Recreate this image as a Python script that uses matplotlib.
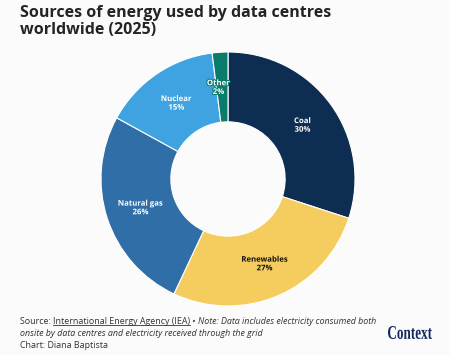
import matplotlib
matplotlib.use("Agg")
import matplotlib.pyplot as plt
import matplotlib.patheffects as pe
from matplotlib.textpath import TextPath
from matplotlib.patches import PathPatch
from matplotlib.font_manager import FontProperties
from matplotlib.transforms import Affine2D, IdentityTransform
import numpy as np

categories = ["Coal", "Renewables", "Natural gas", "Nuclear", "Other"]
values = [30, 27, 26, 15, 2]
colors = ["#0e2d52", "#f5cd5f", "#2f6ea6", "#3ea3e0", "#0b7c6c"]
text_colors = ["white", "#111111", "white", "white", "white"]

plt.rcParams['font.family'] = ['Open Sans', 'DejaVu Sans']

W, H = 450, 355
fig = plt.figure(figsize=(W / 100, H / 100), dpi=100)
bg = "#fbfbfb"
fig.patch.set_facecolor(bg)

cx, cy, R = 228, 179, 127
ax = fig.add_axes([(cx - R) / W, (H - cy - R) / H, 2 * R / W, 2 * R / H])
ax.set_facecolor("none")
width = 0.55
wedges, _ = ax.pie(values, colors=colors, startangle=90, counterclock=False,
                   radius=1, wedgeprops=dict(width=width, edgecolor="white", linewidth=0.8))
ax.set_xlim(-1, 1)
ax.set_ylim(-1, 1)
ax.set_aspect("equal")
ax.axis("off")

total = sum(values)
cum = 0
rl = 1 - width / 2
for cat, v, c, tc in zip(categories, values, colors, text_colors):
    mid = 90 - (cum + v / 2) / total * 360
    cum += v
    x, y = rl * np.cos(np.radians(mid)), rl * np.sin(np.radians(mid))
    if cat == "Other":
        x -= 0.03
    t = ax.text(x, y, f"{cat}\n{v}%", ha="center", va="center", fontsize=5.6,
                fontweight="bold", color=tc, linespacing=0.95)
    t.set_path_effects([pe.withStroke(linewidth=1.5, foreground=c)])

# Title
fig.text(20 / W, 1 - 5 / H, "Sources of energy used by data centres\nworldwide (2025)",
         ha="left", va="top", fontsize=11.5, fontweight="bold", color="#242424",
         linespacing=1.12)

# Footer
fig.canvas.draw()
r = fig.canvas.get_renderer()
fs = 6.4
fc = "#333333"
y1 = 1 - 322 / H
x0 = 20 / W
t = fig.text(x0, y1, "Source: ", fontsize=fs, color=fc, va="center", ha="left")
bb = t.get_window_extent(r)
t2 = fig.text(bb.x1 / W, y1, "International Energy Agency (IEA)", fontsize=fs, color=fc,
              va="center", ha="left")
bb2 = t2.get_window_extent(r)
fig.add_artist(plt.Line2D([bb2.x0 / W, bb2.x1 / W], [(bb2.y0 + 1.5) / H] * 2,
                          color=fc, linewidth=0.6, transform=fig.transFigure))
t3 = fig.text(bb2.x1 / W, y1, " • ", fontsize=fs, color=fc, va="center", ha="left")
bb3 = t3.get_window_extent(r)
fig.text(bb3.x1 / W, y1, "Note: Data includes electricity consumed both", fontsize=fs,
         color=fc, va="center", ha="left", style="italic")
fig.text(x0, 1 - 334 / H, "onsite by data centres and electricity received through the grid",
         fontsize=fs, color=fc, va="center", ha="left", style="italic")
fig.text(x0, 1 - 346 / H, "Chart: Diana Baptista", fontsize=fs, color=fc, va="center", ha="left")

# Context logo (condensed bold serif)
tp = TextPath((0, 0), "Context", size=10, prop=FontProperties(family="Liberation Serif", weight="bold"))
ext = tp.get_extents()
tw, th = 44, 13
sx = tw / ext.width
sy = th / (ext.height)
tr = Affine2D().translate(-ext.x0, -ext.y0).scale(sx, sy).translate(388, H - 339)
patch = PathPatch(tr.transform_path(tp), facecolor="#13295e", edgecolor="none",
                  transform=IdentityTransform())
fig.add_artist(patch)

fig.savefig("out.png", dpi=100, facecolor=bg)
